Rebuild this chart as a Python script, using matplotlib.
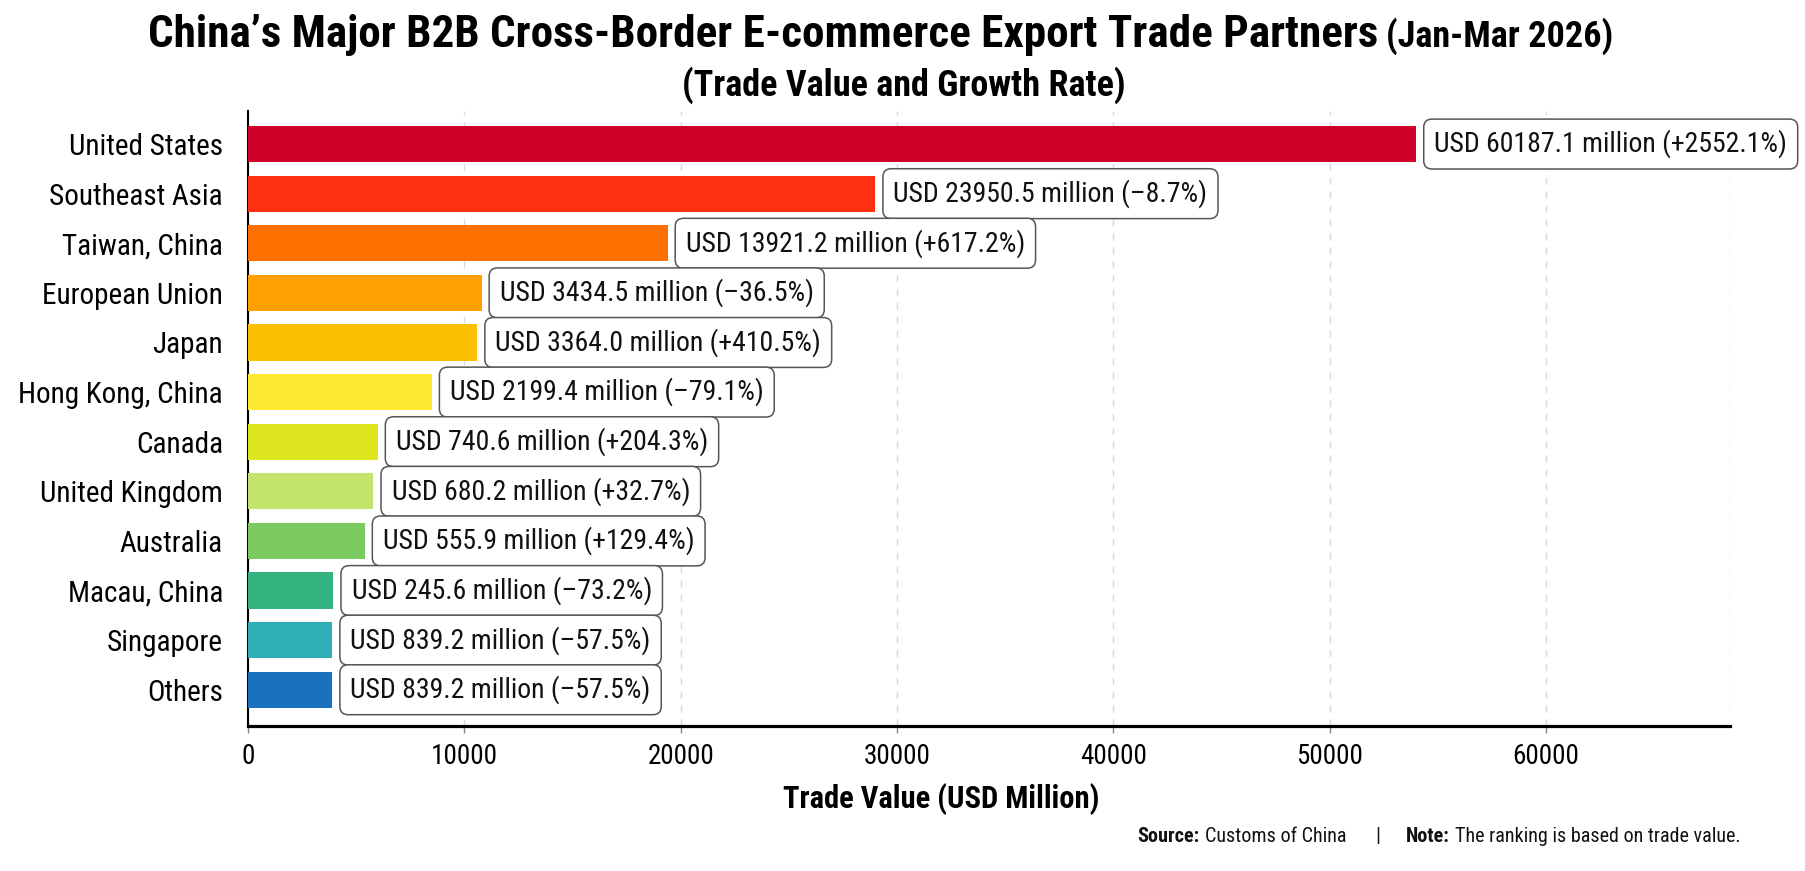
import matplotlib.pyplot as plt
from matplotlib import font_manager

# pick a condensed face if one is installed, the reference uses a narrow sans
faces = font_manager.fontManager.ttflist
names = {f.name for f in faces}
family = None
for cand in ['Liberation Sans Narrow', 'Noto Sans Condensed', 'Roboto Condensed',
             'DejaVu Sans Condensed', 'Open Sans Condensed']:
    if cand in names:
        family = cand
        break
if family is None:
    for cand in ['Noto Sans', 'Roboto', 'Open Sans', 'DejaVu Sans']:
        if any(f.name == cand and str(f.stretch) in ('condensed', 'semi-condensed', 'extra-condensed', '75', '87.5')
               for f in faces):
            family = cand
            plt.rcParams['font.stretch'] = 'condensed'
            break
if family is None:
    family = 'Roboto'
plt.rcParams['font.family'] = [family, 'DejaVu Sans']

partners = ['United States', 'Southeast Asia', 'Taiwan, China', 'European Union', 'Japan',
            'Hong Kong, China', 'Canada', 'United Kingdom', 'Australia', 'Macau, China',
            'Singapore', 'Others']
# bar lengths as drawn in the picture (USD million)
bar_values = [54000, 29000, 19400, 10800, 10600, 8500, 6000, 5800, 5400, 3950, 3900, 3900]
# values and growth printed in the boxes
trade_labels = ['60187.1', '23950.5', '13921.2', '3434.5', '3364.0', '2199.4',
                '740.6', '680.2', '555.9', '245.6', '839.2', '839.2']
growth_labels = ['+2552.1%', '–8.7%', '+617.2%', '–36.5%', '+410.5%', '–79.1%',
                 '+204.3%', '+32.7%', '+129.4%', '–73.2%', '–57.5%', '–57.5%']
colors = ['#D0002B', '#FF3010', '#FF7000', '#FF9F00', '#FBC000', '#FFEA33',
          '#DDE61E', '#C2E46C', '#7CCB62', '#34B381', '#2FAEB6', '#1A72BE']
x_ticks = [0, 10000, 20000, 30000, 40000, 50000, 60000]

fig = plt.figure(figsize=(18.05, 8.71), dpi=100)
ax = fig.add_axes([0.1374, 0.1665, 0.821, 0.706])

y = list(range(len(partners)))
ax.barh(y, bar_values, height=0.73, color=colors, zorder=3)

for i, v in enumerate(bar_values):
    ax.annotate(f'USD {trade_labels[i]} million ({growth_labels[i]})', xy=(v, i),
                xytext=(13, 0), textcoords='offset points', ha='left', va='center',
                fontsize=20, color='#111111', zorder=4,
                bbox=dict(boxstyle='round,pad=0.38,rounding_size=0.3', fc='white',
                          ec='#555555', lw=1.1))

xmax = 68500
ax.set_xlim(0, xmax)
ax.set_ylim(len(partners) - 1 + 0.73, -0.665)
ax.set_xticks(x_ticks)
ax.set_yticks(y)
ax.set_yticklabels(partners, fontsize=21)
ax.tick_params(axis='y', length=0, pad=18)
ax.tick_params(axis='x', length=5, width=1, color='#888888', pad=7, labelsize=19.5)
ax.grid(axis='x', linestyle=(0, (5, 5)), color='#d9d9d9', lw=1, zorder=0)
ax.axvline(xmax, linestyle=(0, (5, 5)), color='#d9d9d9', lw=1, zorder=0)

for s in ['top', 'right']:
    ax.spines[s].set_visible(False)
ax.spines['left'].set_linewidth(1.5)
ax.spines['bottom'].set_linewidth(2.3)

ax.set_xlabel('Trade Value (USD Million)', fontsize=22, fontweight='bold')
ax.xaxis.set_label_coords(0.468, -0.093)

# title in two parts
r = fig.canvas.get_renderer()
t1 = fig.text(0, 0.946, 'China’s Major B2B Cross-Border E-commerce Export Trade Partners',
              fontsize=32.5, fontweight='bold', va='baseline', ha='left')
t2 = fig.text(0, 0.946, '(Jan-Mar 2026)', fontsize=26, fontweight='bold',
              va='baseline', ha='left')
w1 = t1.get_window_extent(r).width
w2 = t2.get_window_extent(r).width
W = fig.bbox.width
x0 = 881 - (w1 + 8 + w2) / 2
t1.set_x(x0 / W)
t2.set_x((x0 + w1 + 8) / W)

fig.text(0.501, 0.902, '(Trade Value and Growth Rate)', fontsize=26,
         fontweight='bold', ha='center', va='center')

# footnote
pieces = [('Source:', 'bold', 6), ('Customs of China', 'normal', 29), ('|', 'normal', 25),
          ('Note:', 'bold', 6), ('The ranking is based on trade value.', 'normal', 0)]
xp = 1137
for txt, wt, gap in pieces:
    t = fig.text(xp / W, 0.0333, txt, fontsize=14.5, fontweight=wt, va='baseline',
                 ha='left', color='#111111')
    xp += t.get_window_extent(r).width + gap

fig.savefig('out.png', dpi=100)
